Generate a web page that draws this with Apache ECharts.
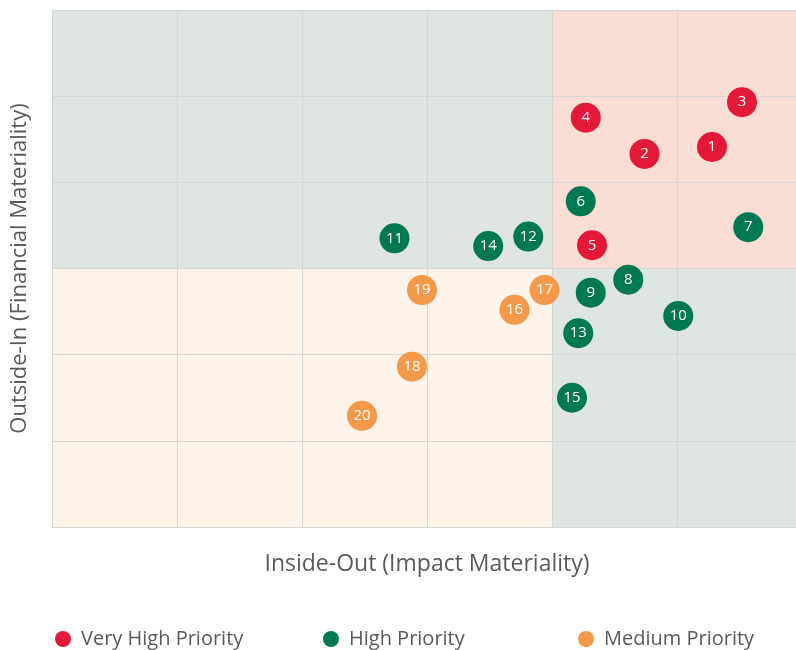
<!doctype html>
<html>
<head>
    <meta charset="utf-8" />
    <script src="https://cdn.jsdelivr.net/npm/echarts@6/dist/echarts.min.js"></script>
    <style>
        html, body { margin: 0; padding: 0; background: #fff; }
        #chart { width: 796px; height: 650px; }
    </style>
</head>
<body>
<div id="chart"></div>
<script>
// topic id, impact (x), financial (y)
const veryHigh = [
    [5.28, 4.41, '1'], [4.74, 4.33, '2'], [5.52, 4.93, '3'], [4.27, 4.75, '4'], [4.32, 3.27, '5']
];
const high = [
    [4.23, 3.78, '6'], [5.57, 3.48, '7'], [4.61, 2.87, '8'], [4.31, 2.72, '9'], [5.01, 2.45, '10'],
    [2.74, 3.35, '11'], [3.81, 3.37, '12'], [4.21, 2.25, '13'], [3.49, 3.26, '14'], [4.16, 1.50, '15']
];
const medium = [
    [3.70, 2.52, '16'], [3.94, 2.75, '17'], [2.88, 1.86, '18'], [2.96, 2.75, '19'], [2.48, 1.29, '20']
];

// quadrant split
const xSplit = 4;
const ySplit = 3;
const axisMax = 6;

const names = ['Very High Priority', 'High Priority', 'Medium Priority'];
const colors = ['#e4193a', '#007852', '#f4984a'];

const FONT = '"Open Sans", sans-serif';

var myChart = echarts.init(document.getElementById('chart'));

function dots(name, data, color) {
    return {
        name: name,
        type: 'scatter',
        z: 5,
        symbolSize: 30,
        itemStyle: { color: color, opacity: 1 },
        label: {
            show: true,
            position: 'inside',
            formatter: p => p.value[2],
            color: '#fff',
            fontSize: 15,
            fontFamily: FONT
        },
        emphasis: { disabled: true },
        data: data
    };
}

function legendAt(left, name) {
    return {
        left: left,
        top: 624,
        data: [name],
        icon: 'circle',
        itemWidth: 16,
        itemHeight: 16,
        selectedMode: false,
        textStyle: {
            fontSize: 20,
            color: '#5a5a5a',
            fontFamily: FONT,
            padding: [0, 0, 0, 5]
        }
    };
}

let options = {
    animation: false,
    grid: { left: 52, right: -6, top: 10, bottom: 123, containLabel: false, outerBoundsMode: 'none' },
    legend: [legendAt(50, names[0]), legendAt(318, names[1]), legendAt(573, names[2])],
    xAxis: {
        type: 'value',
        min: 0,
        max: axisMax,
        interval: 1,
        z: 3,
        name: 'Inside-Out (Impact Materiality)',
        nameLocation: 'middle',
        nameGap: 26,
        nameTextStyle: { fontSize: 23, color: '#5a5a5a', fontFamily: FONT },
        axisLine: { show: true, lineStyle: { color: '#d3d6d6', width: 1 } },
        axisTick: { show: false },
        axisLabel: { show: false },
        splitLine: { show: true, lineStyle: { color: '#d3d6d6', width: 1 } }
    },
    yAxis: {
        type: 'value',
        min: 0,
        max: axisMax,
        interval: 1,
        z: 3,
        name: 'Outside-In (Financial Materiality)',
        nameLocation: 'middle',
        nameGap: 21,
        nameTextStyle: { fontSize: 22, color: '#5a5a5a', fontFamily: FONT },
        axisLine: { show: true, lineStyle: { color: '#d3d6d6', width: 1 } },
        axisTick: { show: false },
        axisLabel: { show: false },
        splitLine: { show: true, lineStyle: { color: '#d3d6d6', width: 1 } }
    },
    series: [
        {
            type: 'scatter',
            z: 1,
            silent: true,
            data: [],
            markArea: {
                silent: true,
                data: [
                    [{ coord: [0, ySplit], itemStyle: { color: '#dfe6e1' } }, { coord: [xSplit, axisMax] }],
                    [{ coord: [xSplit, ySplit], itemStyle: { color: '#f9dcd3' } }, { coord: [axisMax, axisMax] }],
                    [{ coord: [0, 0], itemStyle: { color: '#fdf3e9' } }, { coord: [xSplit, ySplit] }],
                    [{ coord: [xSplit, 0], itemStyle: { color: '#dfe6e1' } }, { coord: [axisMax, ySplit] }]
                ]
            }
        },
        dots(names[0], veryHigh, colors[0]),
        dots(names[1], high, colors[1]),
        dots(names[2], medium, colors[2])
    ]
};
myChart.setOption(options);
</script>
</body>
</html>
